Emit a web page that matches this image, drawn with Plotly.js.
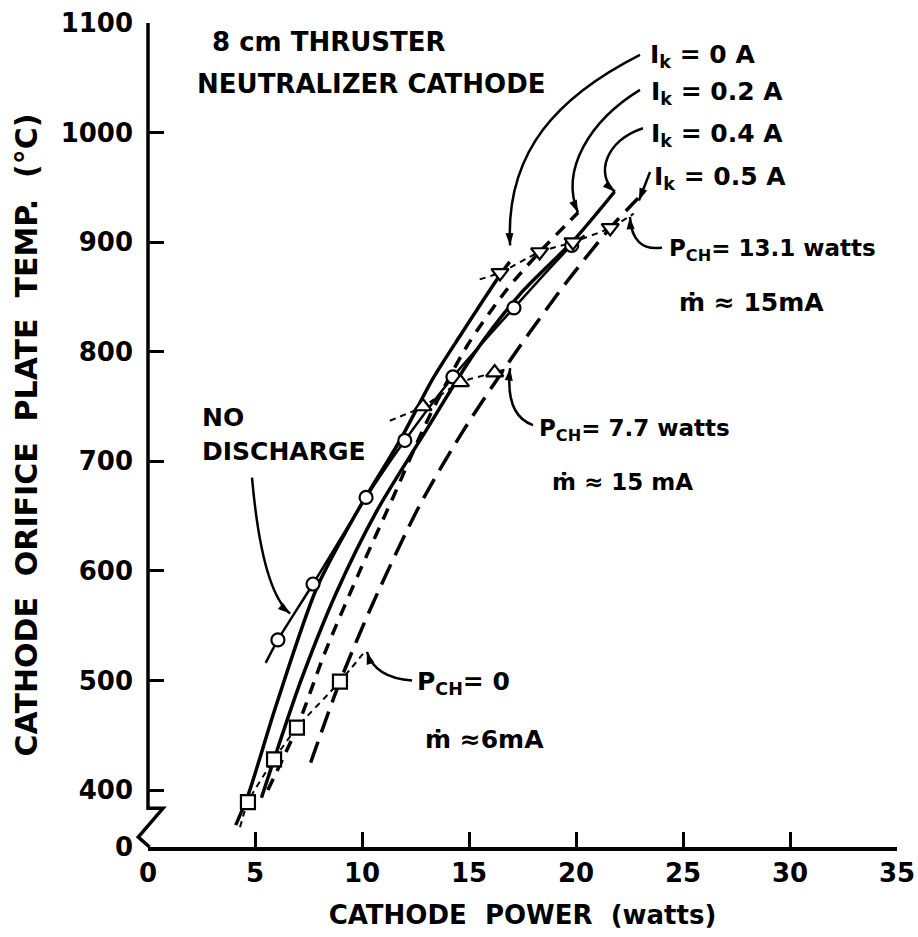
<!DOCTYPE html>
<html><head><meta charset="utf-8">
<script src="https://cdn.plot.ly/plotly-3.0.1.min.js"></script>
<style>html,body{margin:0;padding:0;background:#fff}</style>
</head><body>
<div id="chart" style="width:918px;height:937px"></div>
<script>
// ---- data (cathode power W, orifice plate temperature °C) ----
const ik0X  = [4.1, 4.67, 6.0, 7.9, 9.8, 11.8, 13.3, 14.6, 16.45, 16.9];
const ik0Y  = [368, 395, 478, 585, 655, 720, 775, 815, 870, 882];
const ik02X = [5.6, 6.96, 8.3, 9.9, 11.45, 13.0, 14.9, 16.7, 18.3, 20.1];
const ik02Y = [400, 457, 527, 600, 667, 735, 805, 855, 891, 927];
const ik04X = [5.3, 5.89, 7.15, 8.8, 10.7, 12.8, 15.3, 17.5, 19.86, 21.8];
const ik04Y = [393, 428, 500, 580, 655, 722, 800, 855, 901, 946];
const ik05X = [7.6, 8.97, 10.5, 12.7, 14.8, 17.2, 19.5, 21.6, 22.9];
const ik05Y = [425, 499, 570, 660, 730, 800, 862, 913, 940];

const noDisX = [5.5, 6.07, 7.71, 10.19, 12.0, 14.25, 17.1, 19.8, 20.4];
const noDisY = [516, 537, 588, 667, 719, 777, 840, 897, 906];
const noDisPtsX = [6.07, 7.71, 10.19, 12.0, 14.25, 17.1, 19.8];
const noDisPtsY = [537, 588, 667, 719, 777, 840, 897];

const pch0X = [4.67, 5.89, 6.96, 8.97];          // squares, P_CH = 0
const pch0Y = [389, 428, 457, 499];
const pch0LineX = [4.3, 4.67, 5.89, 6.96, 8.97, 10.2];
const pch0LineY = [366, 389, 428, 457, 499, 528];
const pch77X = [12.85, 14.6, 16.2];              // triangles up, P_CH = 7.7 W
const pch77Y = [750, 772, 781];
const pch77LineX = [11.3, 12.85, 14.6, 16.2, 16.9];
const pch77LineY = [737, 750, 772, 781, 785];
const pch131X = [16.45, 18.3, 19.86, 21.6];      // triangles down, P_CH = 13.1 W
const pch131Y = [872, 891, 900, 913];
const pch131LineX = [15.5, 16.45, 18.3, 19.86, 21.6, 22.7];
const pch131LineY = [866, 872, 891, 900, 913, 926];

const yTickVals = [348, 400, 500, 600, 700, 800, 900, 1000, 1100];
const yTickText = ['0', '400', '500', '600', '700', '800', '900', '1000', '1100'];
const xTickVals = [0, 5, 10, 15, 20, 25, 30, 35];

// leader arrow tips and their directions (degrees, clockwise from up)
const tipX = [6.64, 16.92, 20.09, 21.82, 22.94, 22.52, 16.92, 10.23];
const tipY = [561, 897, 927, 946, 938, 923, 785, 526];
const tipAngle = [129, 177, 157, 130, 201, -3, 6, -17];

const FONT = 'DejaVu Sans, Arial, sans-serif';
const K = '#000';

function curve(x, y, dash, w) {
  return {x: x, y: y, mode: 'lines', type: 'scatter', hoverinfo: 'skip',
          line: {color: K, width: w, dash: dash, shape: 'spline', smoothing: 0.8}};
}
function pts(x, y, sym, size) {
  return {x: x, y: y, mode: 'markers', type: 'scatter',
          marker: {symbol: sym, size: size, color: '#fff', line: {color: K, width: 2.2}}};
}
function seg(x, y) {
  return {x: x, y: y, mode: 'lines', type: 'scatter', hoverinfo: 'skip',
          line: {color: K, width: 2, dash: '6px,5px', shape: 'spline', smoothing: 0.6}};
}

const traces = [
  curve(ik0X, ik0Y, 'solid', 3.5),
  curve(ik02X, ik02Y, '12px,9px', 3.5),
  curve(ik04X, ik04Y, 'solid', 3.5),
  curve(ik05X, ik05Y, '22px,10px', 3.5),
  curve(noDisX, noDisY, 'solid', 2.5),
  seg(pch0LineX, pch0LineY),
  seg(pch77LineX, pch77LineY),
  seg(pch131LineX, pch131LineY),
  pts(noDisPtsX, noDisPtsY, 'circle', 13),
  pts(pch0X, pch0Y, 'square', 14),
  pts(pch77X, pch77Y, 'triangle-up', 15),
  pts(pch131X, pch131Y, 'triangle-down', 15),
  {x: tipX, y: tipY, mode: 'markers', type: 'scatter', hoverinfo: 'skip',
   marker: {symbol: 'arrow', size: 13, angle: tipAngle, color: K, line: {width: 0}}}
];

function txt(x, y, t, size) {
  return {x: x, y: y, xref: 'x', yref: 'y', text: t, showarrow: false,
          xanchor: 'left', yanchor: 'middle',
          font: {family: FONT, size: size, color: K, weight: 'bold'}};
}
const annotations = [
  txt(2.9, 1083, '8 cm THRUSTER', 26),
  txt(2.2, 1044, 'NEUTRALIZER CATHODE', 26),
  txt(23.36, 1070, 'I<sub>k</sub> = 0 A', 25),
  txt(23.4, 1036, 'I<sub>k</sub> = 0.2 A', 25),
  txt(23.4, 998, 'I<sub>k</sub> = 0.4 A', 25),
  txt(23.55, 959, 'I<sub>k</sub> = 0.5 A', 25),
  txt(24.25, 893, 'P<sub>CH</sub>= 13.1 watts', 23),
  txt(24.7, 845, '\u1e41 \u2248 15mA', 25),
  txt(18.18, 729, 'P<sub>CH</sub>= 7.7 watts', 23),
  txt(18.79, 681, '\u1e41 \u2248 15 mA', 23),
  txt(2.43, 740, 'NO', 25),
  txt(2.43, 709, 'DISCHARGE', 25),
  txt(12.48, 498, 'P<sub>CH</sub>= 0', 25),
  txt(12.85, 446, '\u1e41 \u22486mA', 25)
];

const nb = '\u00a0';
const leaders = [
  'M 4.86 685 Q 5.33 582 6.64 561',
  'M 22.99 1071 C 19.25 1034 16.68 984 16.92 897',
  'M 22.99 1039 C 20.65 1011 19.25 966 20.09 927',
  'M 23.13 1004 C 21.36 993 20.89 961 21.82 946',
  'M 23.46 964 L 22.94 938',
  'M 24.02 895 Q 22.62 891 22.52 923',
  'M 17.99 733 Q 16.68 742 16.92 785',
  'M 12.34 500 Q 10.61 502 10.23 526'
];
const shapes = leaders.map(p => ({type: 'path', path: p, xref: 'x', yref: 'y',
  line: {color: K, width: 2.5}}));
// y-axis line with the scale break
shapes.push({type: 'path', xref: 'paper', yref: 'paper',
  path: 'M 0 1 L 0 0.047 L 0.02 0.047 L -0.013 0.012 L 0.002 0',
  line: {color: K, width: 3.5}});

const layout = {
  width: 918, height: 937,
  margin: {l: 148, r: 21, t: 23, b: 90},
  paper_bgcolor: '#fff', plot_bgcolor: '#fff',
  showlegend: false,
  font: {family: FONT, color: K, size: 25},
  xaxis: {
    range: [0, 35], tickvals: xTickVals, ticks: 'inside', ticklen: 15, tickwidth: 3,
    tickcolor: K, showline: true, linecolor: K, linewidth: 3.5, showgrid: false, zeroline: false,
    tickfont: {family: FONT, size: 26, color: K, weight: 'bold'},
    title: {text: 'CATHODE' + nb + nb + 'POWER' + nb + nb + '(watts)', standoff: 20,
            font: {family: FONT, size: 26, color: K, weight: 'bold'}}
  },
  yaxis: {
    range: [348, 1100], tickvals: yTickVals, ticktext: yTickText, ticks: 'inside', ticklen: 16,
    tickwidth: 3, tickcolor: K, showline: false, showgrid: false, zeroline: false,
    ticklabelstandoff: 14,
    tickfont: {family: FONT, size: 26, color: K, weight: 'bold'},
    title: {text: 'CATHODE' + nb + nb + 'ORIFICE' + nb + nb + 'PLATE' + nb + nb + 'TEMP.' + nb + nb + '(°C)',
            standoff: 14, font: {family: FONT, size: 30, color: K, weight: 'bold'}}
  },
  annotations: annotations,
  shapes: shapes
};

Plotly.newPlot('chart', traces, layout, {displayModeBar: false, staticPlot: true});
</script>
</body></html>
